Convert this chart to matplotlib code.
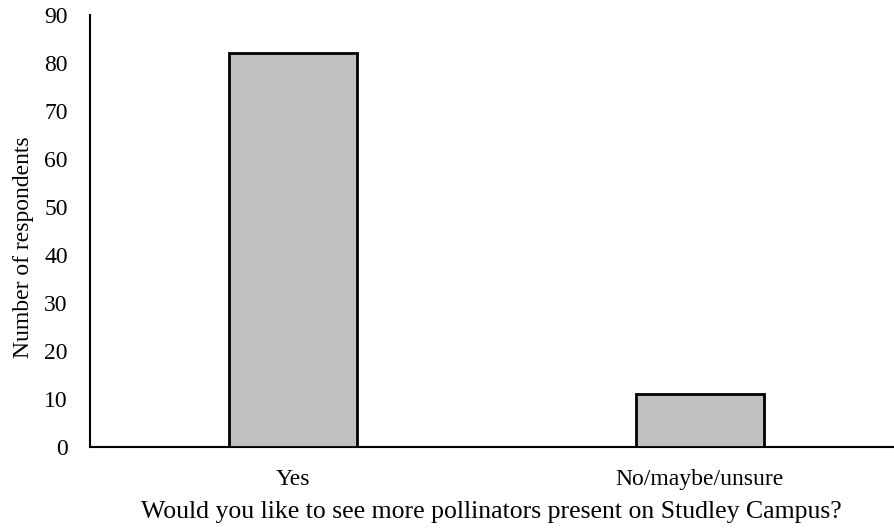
import matplotlib
matplotlib.use("Agg")
import matplotlib.pyplot as plt

categories = ["Yes", "No/maybe/unsure"]
respondents = [82, 11]
y_ticks = [0, 10, 20, 30, 40, 50, 60, 70, 80, 90]

plt.rcParams["font.family"] = ["Liberation Serif", "DejaVu Serif"]

fig = plt.figure(figsize=(8.95, 5.29), dpi=100)
ax = fig.add_axes([90 / 895, 82 / 529, 803 / 895, 432 / 529])

ax.bar(range(len(categories)), respondents, width=0.315, color="#c0c0c0",
       edgecolor="black", linewidth=2.0, zorder=3)

ax.set_xlim(-0.5, 1.475)
ax.set_ylim(0, 90)
ax.set_yticks(y_ticks)
ax.set_xticks(range(len(categories)))
ax.set_xticklabels(categories)
ax.tick_params(axis="both", length=0, labelsize=17)
ax.tick_params(axis="y", pad=16)
ax.tick_params(axis="x", pad=16)

for side in ["top", "right"]:
    ax.spines[side].set_visible(False)
ax.spines["left"].set_linewidth(1.5)
ax.spines["bottom"].set_linewidth(1.5)

ax.set_ylabel("Number of respondents", fontsize=17)
ax.yaxis.set_label_coords(-0.07, 0.463)
ax.set_xlabel("Would you like to see more pollinators present on Studley Campus?",
              fontsize=18.5, labelpad=8)

fig.savefig("out.png", dpi=100)
